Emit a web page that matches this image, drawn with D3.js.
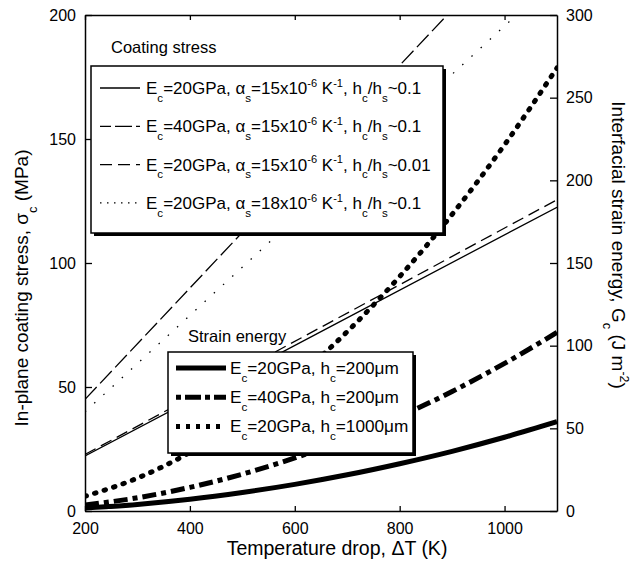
<!DOCTYPE html>
<html>
<head>
<meta charset="utf-8">
<script src="https://cdn.jsdelivr.net/npm/d3@7"></script>
<style>
  body { margin: 0; background: #fff; }
  text { font-family: "Liberation Sans", Arial, sans-serif; fill: #000; }
</style>
</head>
<body>
<div id="graph-holder"></div>
<script>
// x values (temperature drop, K)
var stressT = [200, 650, 1100];
var energyT = [200, 300, 400, 500, 600, 700, 800, 900, 1000, 1100];

// coating stress (MPa), left axis
var stressE20 = [22.2, 72.3, 122.5];
var stressE40 = [45, 146, 247];
var stressThin = [22.8, 74.1, 125.5];
var stressAlpha18 = [40, 127.5, 215];

// interfacial strain energy (J m^-2), right axis
var energyE20 = [1.8, 4.0, 7.1, 11.2, 16.1, 21.9, 28.6, 36.1, 44.6, 54];
var energyE40 = [3.6, 8.0, 14.3, 22.3, 32.1, 43.7, 57.1, 72.3, 89.3, 108];
var energyThick = [8.9, 19.9, 35.4, 55.4, 79.7, 108.5, 141.8, 179.4, 221.5, 268];

var xTicks = [200, 400, 600, 800, 1000];
var leftTicks = [0, 50, 100, 150, 200];
var rightTicks = [0, 50, 100, 150, 200, 250, 300];

var stressLabels = [
  "E_{c}=20GPa, \u03b1_{s}=15x10^{-6} K^{-1}, h_{c}/h_{s}~0.1",
  "E_{c}=40GPa, \u03b1_{s}=15x10^{-6} K^{-1}, h_{c}/h_{s}~0.1",
  "E_{c}=20GPa, \u03b1_{s}=15x10^{-6} K^{-1}, h_{c}/h_{s}~0.01",
  "E_{c}=20GPa, \u03b1_{s}=18x10^{-6} K^{-1}, h_{c}/h_{s}~0.1"
];
var energyLabels = [
  "E_{c}=20GPa, h_{c}=200\u03bcm",
  "E_{c}=40GPa, h_{c}=200\u03bcm",
  "E_{c}=20GPa, h_{c}=1000\u03bcm"
];

// draw text with _{sub} and ^{sup} pieces
function richText(sel, str, size) {
  var parts = str.match(/(_\{[^}]*\}|\^\{[^}]*\}|[^_^]+)/g);
  var cur = 0;
  parts.forEach(function(p) {
    var target = 0, fs = size, t = p;
    if (p[0] === "_") { target = 0.45 * size; fs = 0.68 * size; t = p.slice(2, -1); }
    else if (p[0] === "^") { target = -0.42 * size; fs = 0.65 * size; t = p.slice(2, -1); }
    sel.append("tspan")
      .attr("dy", target - cur)
      .style("font-size", fs + "px")
      .text(t);
    cur = target;
  });
}

var W = 641, H = 566;
var margin = { top: 15, right: 84, bottom: 55, left: 85 },
  width = W - margin.left - margin.right,
  height = H - margin.top - margin.bottom;

var x = d3.scaleLinear().domain([200, 1100]).range([0, width]);
var yL = d3.scaleLinear().domain([0, 200]).range([height, 0]);
var yR = d3.scaleLinear().domain([0, 300]).range([height, 0]);

var svg = d3.select("#graph-holder")
  .append("svg")
  .attr("width", W)
  .attr("height", H)
  .append("g")
  .attr("transform", "translate(" + margin.left + "," + margin.top + ")");

svg.append("clipPath").attr("id", "clip")
  .append("rect").attr("width", width).attr("height", height);

var plot = svg.append("g").attr("clip-path", "url(#clip)");

function lineL(xs) {
  return d3.line().x(function(d, i) { return x(xs[i]); }).y(function(d) { return yL(d); });
}
function lineR(xs) {
  return d3.line().curve(d3.curveMonotoneX)
    .x(function(d, i) { return x(xs[i]); }).y(function(d) { return yR(d); });
}

var stressSeries = [
  { data: stressE20, dash: null, legDash: null },
  { data: stressE40, dash: "17,5", legDash: "11,4,17,4" },
  { data: stressThin, dash: "12,6", legDash: "12,6" },
  { data: stressAlpha18, dash: "1.5,11", legDash: "1.5,5.5" }
];
var energySeries = [
  { data: energyE20, dash: null, cap: "butt", legDash: null },
  { data: energyE40, dash: "14,5,5,5", cap: "butt", legDash: "5,4,16,4" },
  { data: energyThick, dash: "1.5,8.5", cap: "round", legDash: "4,6" }
];

stressSeries.forEach(function(s) {
  plot.append("path")
    .datum(s.data)
    .attr("d", lineL(stressT))
    .attr("fill", "none")
    .attr("stroke", "black")
    .attr("stroke-width", 1.3)
    .attr("stroke-dasharray", s.dash);
});
energySeries.forEach(function(s) {
  plot.append("path")
    .datum(s.data)
    .attr("d", lineR(energyT))
    .attr("fill", "none")
    .attr("stroke", "black")
    .attr("stroke-width", 5)
    .attr("stroke-linecap", s.cap)
    .attr("stroke-dasharray", s.dash);
});

// axes with inward ticks
var ax = svg.append("g").attr("class", "axes");
ax.append("g").attr("transform", "translate(0," + height + ")")
  .call(d3.axisBottom(x).tickValues(xTicks).tickFormat(d3.format("d"))
    .tickSizeInner(-5).tickSizeOuter(0).tickPadding(12));
ax.append("g")
  .call(d3.axisTop(x).tickValues(xTicks).tickSizeInner(-5).tickSizeOuter(0).tickFormat(""));
ax.append("g")
  .call(d3.axisLeft(yL).tickValues(leftTicks).tickSizeInner(-7).tickSizeOuter(0).tickPadding(9));
ax.append("g").attr("transform", "translate(" + width + ",0)")
  .call(d3.axisRight(yR).tickValues(rightTicks).tickSizeInner(-7).tickSizeOuter(0).tickPadding(9));
ax.selectAll(".domain").attr("stroke", "black").attr("stroke-width", 1.5);
ax.selectAll(".tick line").attr("stroke", "black").attr("stroke-width", 1.3);
ax.selectAll(".tick text").style("font-size", "16px").style("font-family", "Liberation Sans, Arial, sans-serif");

// axis titles
svg.append("text")
  .attr("x", 252).attr("y", height + 44)
  .attr("text-anchor", "middle")
  .style("font-size", "19.5px")
  .text("Temperature drop, \u0394T (K)");

var lt = svg.append("text")
  .attr("transform", "translate(-57," + 273 + ") rotate(-90)")
  .attr("text-anchor", "middle")
  .style("font-size", "19px");
richText(lt, "In-plane coating stress, \u03c3_{c} (MPa)", 19);

var rt = svg.append("text")
  .attr("transform", "translate(" + (width + 55) + "," + 230 + ") rotate(90)")
  .attr("text-anchor", "middle")
  .style("font-size", "19px");
richText(rt, "Interfacial strain energy, G_{c} (J m^{-2})", 19);

// legend: coating stress
svg.append("text").attr("x", 26).attr("y", 38)
  .style("font-size", "16.5px").text("Coating stress");
var leg1 = svg.append("g").attr("transform", "translate(6,51)");
leg1.append("rect").attr("x", 3).attr("y", 3).attr("width", 352).attr("height", 167).attr("fill", "black");
leg1.append("rect").attr("width", 352).attr("height", 167)
  .attr("fill", "white").attr("stroke", "black").attr("stroke-width", 1.5);
stressSeries.forEach(function(s, i) {
  var yy = 22 + i * 38.3;
  leg1.append("line").attr("x1", 9).attr("x2", 49).attr("y1", yy).attr("y2", yy)
    .attr("stroke", "black").attr("stroke-width", 1.3).attr("stroke-dasharray", s.legDash);
  var t = leg1.append("text").attr("x", 55).attr("y", yy + 6).style("font-size", "17px");
  richText(t, stressLabels[i], 17);
});

// legend: strain energy
svg.append("text").attr("x", 103).attr("y", 327)
  .style("font-size", "16.5px").text("Strain energy");
var leg2 = svg.append("g").attr("transform", "translate(83,337)");
leg2.append("rect").attr("x", 3).attr("y", 3).attr("width", 245).attr("height", 101).attr("fill", "black");
leg2.append("rect").attr("width", 245).attr("height", 101)
  .attr("fill", "white").attr("stroke", "black").attr("stroke-width", 1.5);
energySeries.forEach(function(s, i) {
  var yy = 16 + i * 29.2;
  leg2.append("line").attr("x1", 8).attr("x2", 58).attr("y1", yy).attr("y2", yy)
    .attr("stroke", "black").attr("stroke-width", 5).attr("stroke-dasharray", s.legDash);
  var t = leg2.append("text").attr("x", 62).attr("y", yy + 6).style("font-size", "17.2px");
  richText(t, energyLabels[i], 17.2);
});
</script>
</body>
</html>
